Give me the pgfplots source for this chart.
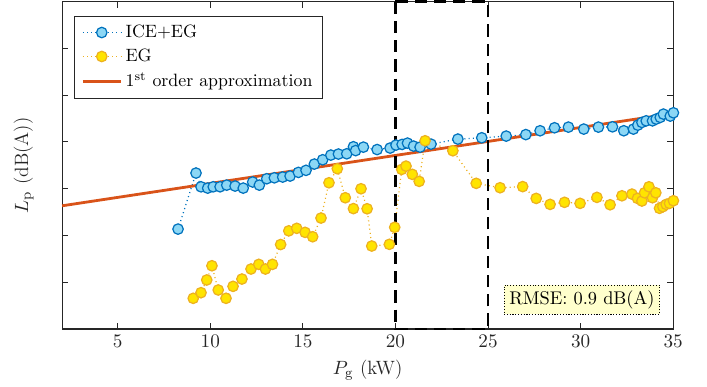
\documentclass[border=0pt]{standalone}
\usepackage{pgfplots}
\pgfplotsset{compat=1.18}
\definecolor{mblue}{RGB}{0,114,189}
\definecolor{mbluefill}{RGB}{140,215,245}
\definecolor{myel}{RGB}{237,177,32}
\definecolor{myelfill}{RGB}{255,228,0}
\definecolor{morange}{RGB}{217,83,25}
\definecolor{axgray}{RGB}{38,38,38}
\definecolor{boxfill}{RGB}{255,255,204}
\begin{document}
\begin{tikzpicture}
\begin{axis}[
  at={(0,0)}, anchor=south west,
  scale only axis,
  width=349.2pt, height=187.1pt,
  xmin=2, xmax=35, ymin=60, ymax=95,
  xtick={5,10,15,20,25,30,35},
  ytick={65,70,75,80,85,90},
  yticklabels={},
  tick align=inside,
  major tick length=3.5pt,
  axis line style={axgray, line width=0.6pt},
  every tick/.style={axgray, line width=0.6pt},
  tick label style={axgray},
  xticklabel style={font=\fontsize{11}{13}\selectfont},
  xlabel={$P_{\mathrm{g}}$ (kW)},
  ylabel={$L_{\mathrm{p}}$ (dB(A))},
  every axis x label/.style={at={(axis description cs:0.5,-0.125)}, anchor=center, font=\fontsize{11}{13}\selectfont, axgray},
  every axis y label/.style={at={(axis description cs:-0.063,0.5)}, anchor=center, rotate=90, font=\fontsize{11}{13}\selectfont, axgray},
  clip=false,
  legend style={at={(axis description cs:0.0193,0.957)}, anchor=north west, draw=axgray, line width=0.6pt, font=\fontsize{10.2}{12}\selectfont, row sep=1pt, inner xsep=4pt, inner ysep=3pt},
  legend cell align=left,
  legend image code/.code={\draw[mark repeat=2,mark phase=2,#1] plot coordinates {(0cm,0cm) (0.38cm,0cm) (0.76cm,0cm)};},
]
\addplot[mblue, dash pattern=on 0.6pt off 1.8pt, line width=0.7pt, mark=*, mark size=3pt, mark options={solid, fill=mbluefill, draw=mblue, line width=0.7pt}] coordinates {
(8.26,70.68) (9.23,76.67) (9.50,75.20) (9.86,75.06) (10.16,75.20) (10.53,75.20)
(10.89,75.38) (11.34,75.28) (11.78,75.06) (12.29,75.71) (12.65,75.38) (13.05,76.06)
(13.46,76.16) (13.91,76.24) (14.31,76.35) (14.76,76.74) (15.17,76.96) (15.62,77.63)
(16.07,78.09) (16.51,78.59) (16.92,78.70) (17.37,78.73) (17.73,79.48) (17.85,79.07)
(18.27,79.44) (19.01,79.18) (19.71,79.34) (20.03,79.66) (20.36,79.73) (20.65,79.87)
(20.98,79.55) (21.33,79.44) (21.92,79.76) (23.37,80.30) (24.66,80.44) (25.98,80.62)
(27.04,80.78) (27.81,81.19) (28.59,81.51) (29.34,81.58) (30.17,81.37) (30.96,81.58)
(31.72,81.61) (32.33,81.19) (32.85,81.37) (33.09,81.79) (33.31,82.08) (33.54,82.25)
(33.88,82.25) (34.08,82.44) (34.30,82.62) (34.47,82.97) (34.84,82.76) (35.01,83.11)
};
\addlegendentry{ICE+EG}
\addplot[myel, dash pattern=on 0.6pt off 1.8pt, line width=0.7pt, mark=*, mark size=3pt, mark options={solid, fill=myelfill, draw=myel, line width=0.7pt}] coordinates {
(9.08,63.28) (9.50,63.88) (9.81,65.24) (10.09,66.76) (10.43,64.17) (10.85,63.28)
(11.23,64.56) (11.71,65.34) (12.20,66.41) (12.62,66.91) (12.98,66.41) (13.36,66.91)
(13.80,69.03) (14.24,70.49) (14.67,70.76) (15.12,70.33) (15.53,69.86) (15.98,71.86)
(16.41,75.63) (16.86,77.13) (17.29,74.03) (17.73,72.87) (18.14,74.99) (18.47,72.85)
(18.72,68.87) (19.67,69.05) (19.96,70.87) (20.34,77.06) (20.57,77.41) (20.91,76.53)
(21.28,75.78) (21.60,80.12) (23.10,79.05) (24.36,75.57) (25.65,75.10) (26.87,75.22)
(27.60,73.96) (28.35,73.32) (29.13,73.54) (29.97,73.43) (30.88,74.07) (31.59,73.28)
(32.23,74.24) (32.77,74.42) (33.07,73.96) (33.31,73.68) (33.45,74.56) (33.69,75.20)
(33.88,74.03) (34.06,74.56) (34.26,72.90) (34.44,73.07) (34.62,73.32) (34.80,73.43)
(35.01,73.71)
};
\addlegendentry{EG}
\addplot[morange, line width=1.6pt, no marks] coordinates {(2,73.17) (35,83.04)};
\addlegendentry{1\textsuperscript{st} order approximation}
\addplot[black, line width=1.5pt, dash pattern=on 7pt off 4pt, no marks, forget plot] coordinates {(20,95) (20,60) (25,60) (25,95) (20,95)};
\node[draw=black, densely dotted, line width=0.6pt, fill=boxfill, font=\fontsize{10.5}{12}\selectfont, inner sep=3pt] at (axis cs:30.07,63.13) {RMSE: 0.9 dB(A)};
\end{axis}
\pgfresetboundingbox
\path (-35.5pt,-33.1pt) rectangle (368.5pt,188pt);
\end{tikzpicture}
\end{document}
